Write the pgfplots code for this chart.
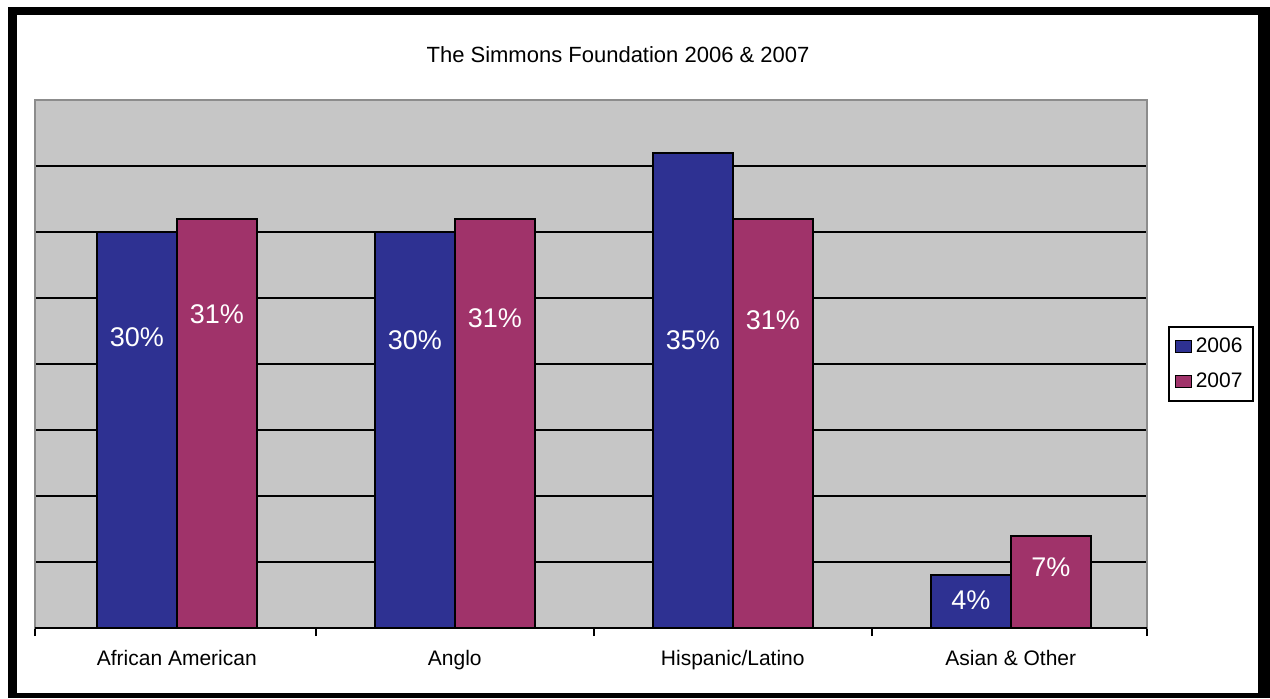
\documentclass[border=0pt]{standalone}
\usepackage{fontspec}
\setmainfont{Liberation Sans}
\usepackage{pgfplots}
\pgfplotsset{compat=1.18}

\definecolor{bar06}{HTML}{2E3192}
\definecolor{bar07}{HTML}{A0336A}
\definecolor{plotgray}{HTML}{C6C6C6}
\definecolor{rimgray}{HTML}{8C8C8C}

\begin{document}
\begin{tikzpicture}
\useasboundingbox (0,0) rectangle (635pt,349pt);
% outer frame (right and bottom heavier, like a shadow)
\fill[black] (4pt,0pt) rectangle (8.5pt,345.5pt);
\fill[black] (4pt,341.5pt) rectangle (635pt,345.5pt);
\fill[black] (629pt,0pt) rectangle (635pt,345.5pt);
\fill[black] (4pt,0pt) rectangle (635pt,2.5pt);

\node[font=\fontsize{11}{13}\selectfont, anchor=base] at (309pt,317.5pt)
  {The Simmons Foundation 2006 \& 2007};

\begin{axis}[
    at={(17.5pt,35pt)}, anchor=south west,
    scale only axis, width=556pt, height=264pt,
    ybar=0pt, bar width=40pt,
    xmin=-0.51, xmax=3.49, ymin=0, ymax=40,
    xtick={0,1,2,3},
    xticklabels={African American, Anglo, Hispanic/Latino, Asian \& Other},
    minor xtick={-0.51,0.5,1.5,2.5,3.49},
    ytick={5,10,...,35}, yticklabels={},
    xtick pos=lower, ytick pos=left,
    ymajorgrids, grid style={black, line width=1pt},
    major tick length=0pt, minor tick length=4pt, tick align=outside,
    every minor tick/.append style={black, line width=1pt},
    axis line style={rimgray, line width=1pt},
    axis background/.style={fill=plotgray},
    xticklabel style={font=\fontsize{10.5}{12}\selectfont, anchor=base, yshift=-18.5pt},
    legend style={at={(1,0.5)}, anchor=west, xshift=10.5pt,
      draw=black, line width=1pt, fill=white,
      font=\fontsize{10.5}{12}\selectfont,
      inner xsep=3pt, inner ysep=3pt, row sep=5pt},
    legend cell align=left,
  ]

  \addplot[fill=bar06, draw=black, line width=1pt, bar shift=-20pt,
    legend image code/.code={\draw[fill=bar06, draw=black, line width=0.4pt] (0pt,-3pt) rectangle (8pt,3pt);}]
    coordinates {(0,30) (1,30) (2,36) (3,4)};
  \addplot[fill=bar07, draw=black, line width=1pt, bar shift=20pt,
    legend image code/.code={\draw[fill=bar07, draw=black, line width=0.4pt] (0pt,-3pt) rectangle (8pt,3pt);}]
    coordinates {(0,31) (1,31) (2,31) (3,7)};
  \legend{2006,2007}

  % value labels, placed inside the bars
  \addplot[forget plot, draw=none, fill=none, bar shift=-20pt,
    point meta=explicit symbolic,
    nodes near coords={\pgfplotspointmeta\%},
    nodes near coords style={white, anchor=center, font=\fontsize{13.5}{16}\selectfont}]
    table[meta=lab] {
      x y lab
      0 22.0 30
      1 21.8 30
      2 21.8 35
      3 2.1 4
    };
  \addplot[forget plot, draw=none, fill=none, bar shift=20pt,
    point meta=explicit symbolic,
    nodes near coords={\pgfplotspointmeta\%},
    nodes near coords style={white, anchor=center, font=\fontsize{13.5}{16}\selectfont}]
    table[meta=lab] {
      x y lab
      0 23.8 31
      1 23.5 31
      2 23.3 31
      3 4.6 7
    };

  \draw[black, line width=1pt] (-0.51,0) -- (3.49,0);
\end{axis}
\end{tikzpicture}
\end{document}
